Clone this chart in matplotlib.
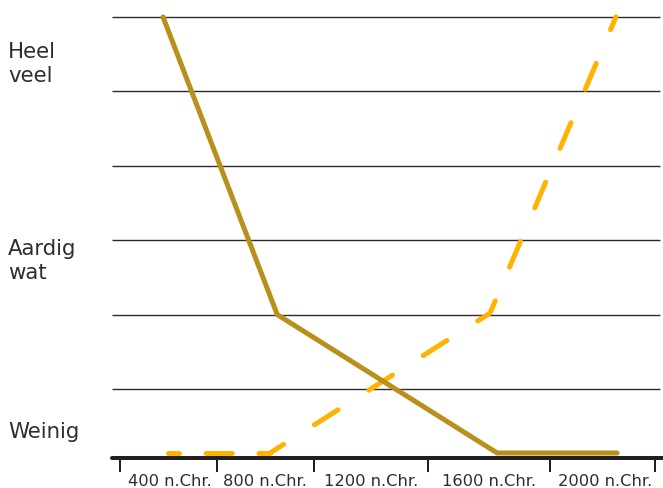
import matplotlib
matplotlib.use('Agg')
import matplotlib.pyplot as plt

# values (x in years, y in levels 0..6)
solid_x = [400, 800, 1570, 1990]
solid_y = [6, 2, 0.14, 0.14]
dash_x = [416, 775, 1545, 1986]
dash_y = [0.14, 0.14, 2.02, 6]

grid_levels = [1, 2, 3, 4, 5, 6]
year_labels = ['400 n.Chr.', '800 n.Chr.', '1200 n.Chr.', '1600 n.Chr.', '2000 n.Chr.']
label_pos = [423, 758, 1130, 1541, 1948]
tick_pos = [249, 589, 929, 1328, 1755, 2122]
level_labels = ['Weinig', 'Aardig\nwat', 'Heel\nveel']
level_pos = [0.42, 2.72, 5.37]

text_col = '#2d2d2d'
axis_col = '#231f20'
dash_col = '#ffb300'

fig = plt.figure(figsize=(6.63, 4.88), dpi=100)
ax = fig.add_axes([112 / 663, 1 - 458 / 488, 551 / 663, 458 / 488])
ax.set_xlim(221.4, 2150.7)
ax.set_ylim(0.0726, 6.228)

ax.hlines(grid_levels, 221.4, 2140, color='#2b2b2b', lw=1.0, zorder=1)

# the dashes in the original are tighter on the flat part than on the rising part
ax.plot(dash_x[:2], dash_y[:2], color=dash_col, lw=3.6, linestyle=(3.0, (5.2, 5.35)),
        dash_capstyle='round', zorder=3, clip_on=False)
ax.plot(dash_x[1:], dash_y[1:], color=dash_col, lw=3.6, linestyle=(2.4, (5.6, 7.3)),
        dash_capstyle='round', dash_joinstyle='round', zorder=3, clip_on=False)
ax.plot(solid_x, solid_y, color='#b8901a', lw=3.6, solid_capstyle='round',
        solid_joinstyle='miter', zorder=4, clip_on=False)

for s in ['top', 'right', 'left']:
    ax.spines[s].set_visible(False)
ax.spines['bottom'].set_linewidth(2.9)
ax.spines['bottom'].set_color(axis_col)
ax.spines['bottom'].set_capstyle('round')
ax.spines['bottom'].set_zorder(2)

ax.set_xticks(tick_pos)
ax.set_xticklabels([])
ax.tick_params(axis='x', which='major', direction='out', length=10, width=1.44, color=axis_col)
ax.set_xticks(label_pos, minor=True)
ax.set_xticklabels(year_labels, minor=True, fontsize=11.7, color=text_col)
ax.tick_params(axis='x', which='minor', length=0, pad=11.5)

ax.set_yticks(level_pos)
ax.set_yticklabels(level_labels, fontsize=15.3, color=text_col, ha='left', va='center')
ax.tick_params(axis='y', length=0, pad=74.9)
for lab in ax.get_yticklabels():
    lab.set_linespacing(1.28)

fig.savefig('out.png', dpi=100)
